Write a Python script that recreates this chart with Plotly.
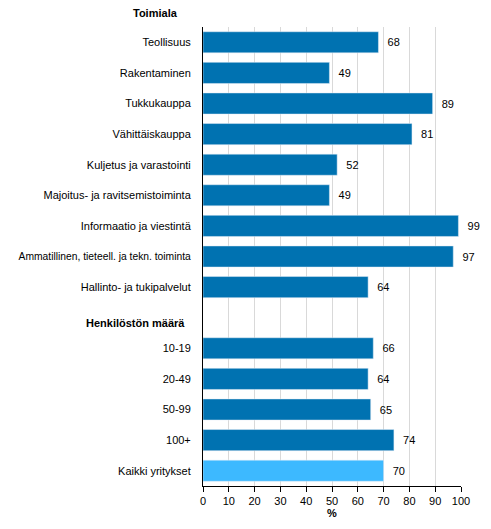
import plotly.graph_objects as go

# Toimialat ja henkilöstön määrä, % yrityksistä
toimialat = ["Teollisuus", "Rakentaminen", "Tukkukauppa", "Vähittäiskauppa",
             "Kuljetus ja varastointi", "Majoitus- ja ravitsemistoiminta",
             "Informaatio ja viestintä", "Ammatillinen, tieteell. ja tekn. toiminta",
             "Hallinto- ja tukipalvelut"]
toimiala_arvot = [68, 49, 89, 81, 52, 49, 99, 97, 64]

koot = ["10-19", "20-49", "50-99", "100+"]
koko_arvot = [66, 64, 65, 74]

kaikki = ["Kaikki yritykset"]
kaikki_arvot = [70]

valiotsikko = " "  # tyhjä rivi Henkilöstön määrä -otsikolle
x_ticks = list(range(0, 101, 10))

kategoriat = toimialat + [valiotsikko] + koot + kaikki
# pisin nimi hieman pienemmällä, jotta mahtuu sivulle
tekstit = [f'<span style="font-size:10.3px">{k}</span>' if len(k) > 35 else k
           for k in kategoriat]

tumma = "#0072B1"
vaalea = "#3DB9FF"
fnt = dict(family="Liberation Sans, Arial, sans-serif", size=11, color="#000000")

fig = go.Figure()
fig.add_trace(go.Bar(
    y=toimialat + koot, x=toimiala_arvot + koko_arvot, orientation="h",
    marker=dict(color=tumma), width=0.69,
    text=toimiala_arvot + koko_arvot, texttemplate="  %{text}",
    textposition="outside", textfont=fnt, cliponaxis=False, constraintext="none",
    showlegend=False,
))
fig.add_trace(go.Bar(
    y=kaikki, x=kaikki_arvot, orientation="h",
    marker=dict(color=vaalea), width=0.69,
    text=kaikki_arvot, texttemplate="  %{text}",
    textposition="outside", textfont=fnt, cliponaxis=False, constraintext="none",
    showlegend=False,
))

fig.add_annotation(text="<b>Toimiala</b>", xref="paper", yref="paper",
                   x=-0.185, y=1.03, xanchor="center", yanchor="middle",
                   showarrow=False, font=fnt)
fig.add_annotation(text="<b>Henkilöstön määrä</b>", xref="paper", yref="y",
                   x=-0.26, y=valiotsikko, yshift=-5, xanchor="center", yanchor="middle",
                   showarrow=False, font=fnt)

# sivun body-marginaali (8 px) huomioitu koossa ja marginaaleissa
fig.update_layout(
    width=483, height=521,
    margin=dict(l=195, r=30, t=19, b=43),
    plot_bgcolor="white", paper_bgcolor="white",
    font=fnt, barmode="overlay", bargap=0.31,
)
fig.update_xaxes(
    range=[0, 100], tickvals=x_ticks, showgrid=True, gridcolor="#D9D9D9", gridwidth=1,
    showline=True, linecolor="black", linewidth=1, ticks="outside", ticklen=5,
    tickcolor="black", title=dict(text="<b>%</b>", font=fnt, standoff=2),
    zeroline=False, automargin=False,
)
fig.update_yaxes(
    categoryorder="array", categoryarray=kategoriat, range=[len(kategoriat) - 0.5, -0.5],
    tickmode="array", tickvals=kategoriat, ticktext=tekstit,
    showline=True, linecolor="black", linewidth=1, ticks="", ticklabelstandoff=9,
    showgrid=False, automargin=False,
)

fig.write_html("out.html")
